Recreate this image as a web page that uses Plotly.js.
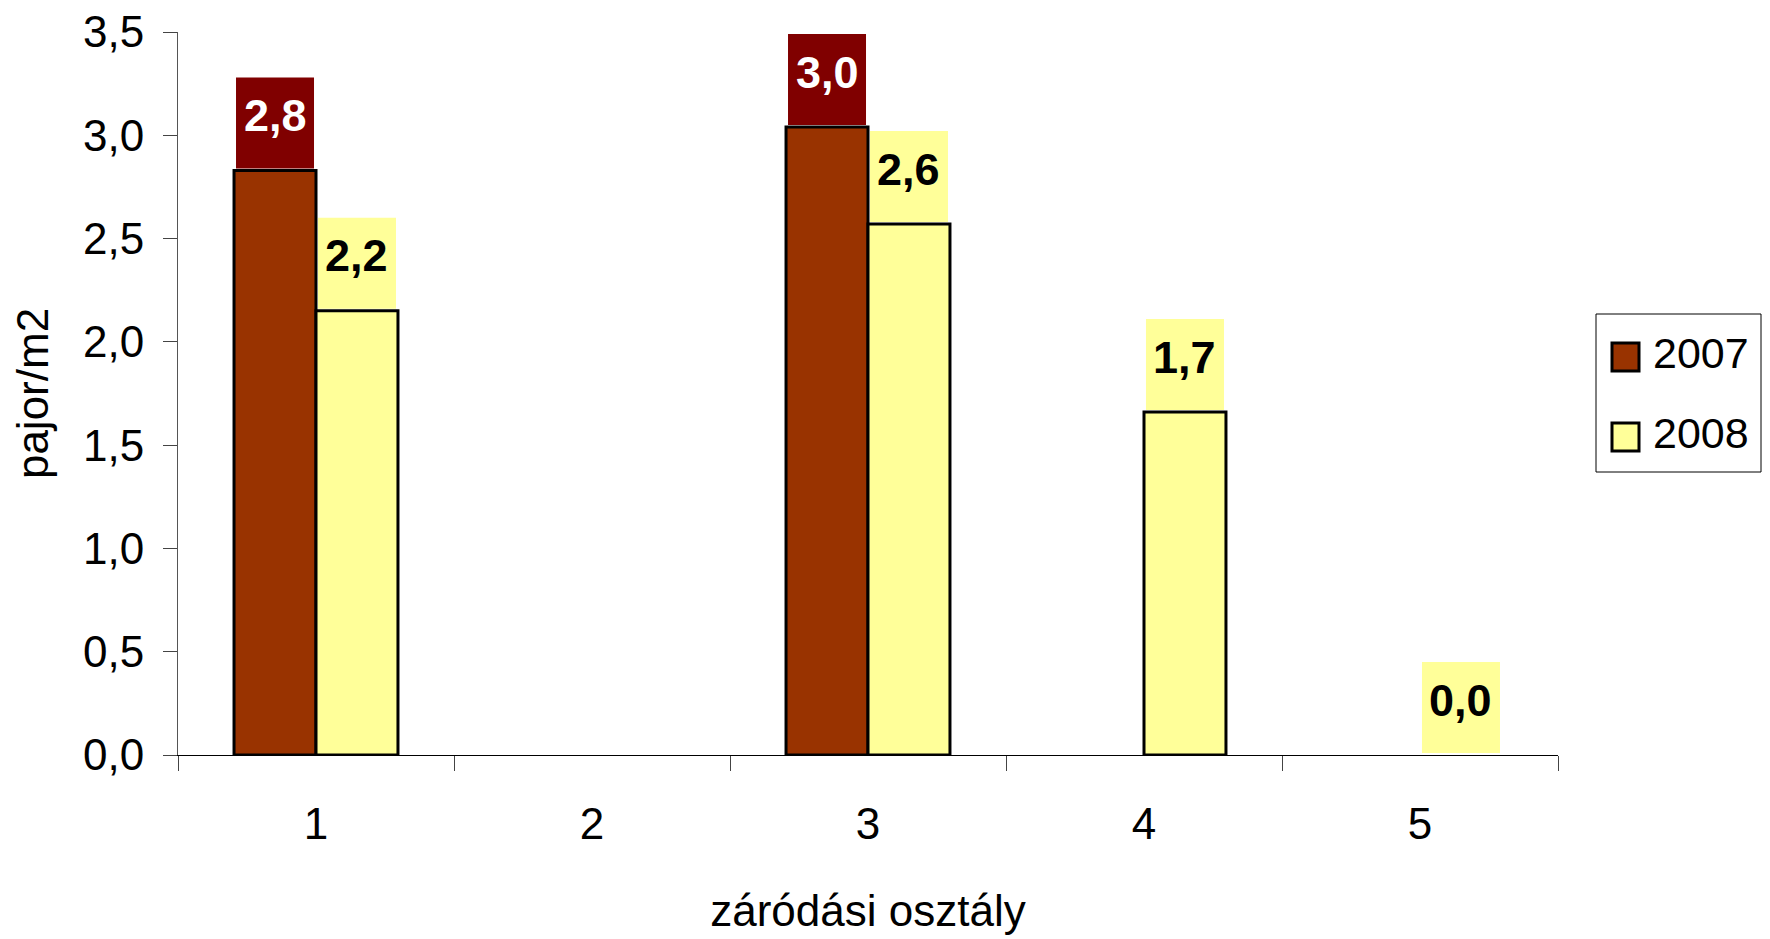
<!DOCTYPE html>
<html>
<head>
<meta charset="utf-8">
<script src="https://cdn.plot.ly/plotly-3.0.1.min.js"></script>
<style>
  html, body { margin: 0; padding: 0; background: #fff; }
  #chart { width: 1770px; height: 939px; }
</style>
</head>
<body>
<div id="chart"></div>
<script>
// Záródási osztályok (closure classes)
const categories = ['1', '2', '3', '4', '5'];
// Cockchafer grubs per m2 by year
const values2007 = [2.83, null, 3.04, null, null];
const values2008 = [2.15, null, 2.57, 1.66, 0.0];
const seriesNames = ['2007', '2008'];
const yTickVals = [0, 0.5, 1.0, 1.5, 2.0, 2.5, 3.0, 3.5];

const FONT = 'Liberation Sans, Arial, sans-serif';
const W = 1770, H = 939;
const margin = { l: 178, r: 212, t: 32, b: 184 };
const plotW = W - margin.l - margin.r;
const plotH = H - margin.t - margin.b;
const bargap = 0.406;

// one decimal, decimal comma (half rounds up)
const fmt = v => (Math.round(v * 10 + 1e-9) / 10).toFixed(1).replace('.', ',');

const series = [
  { name: seriesNames[0], y: values2007, fill: '#993300', labelBg: '#800000', labelColor: '#ffffff' },
  { name: seriesNames[1], y: values2008, fill: '#FFFF99', labelBg: '#FFFF99', labelColor: '#000000' }
];

const traces = series.map(s => ({
  type: 'bar',
  name: s.name,
  x: categories,
  y: s.y,
  marker: {
    color: s.fill,
    line: { color: '#000', width: s.y.map(v => (v === 0 ? 0 : 3)) }
  },
  showlegend: false,
  hoverinfo: 'skip'
}));

// Value labels: filled box sitting on each bar, bold value inside
const catWidth = plotW / categories.length;
const barWidth = catWidth * (1 - bargap) / series.length;
const BOX_W = 78, BOX_H = 91, BOX_GAP = 2, TEXT_FROM_TOP = 38;
const annotations = [];
const shapes = [];
series.forEach((s, si) => {
  const shift = (si - (series.length - 1) / 2) * barWidth;
  s.y.forEach((v, i) => {
    if (v === null) return;
    shapes.push({
      type: 'rect', layer: 'above',
      xref: 'x', yref: 'y',
      xsizemode: 'pixel', xanchor: i,
      x0: shift - BOX_W / 2, x1: shift + BOX_W / 2,
      ysizemode: 'pixel', yanchor: v,
      y0: BOX_GAP, y1: BOX_GAP + BOX_H,
      line: { width: 0 }, fillcolor: s.labelBg
    });
    annotations.push({
      x: i, y: v, xref: 'x', yref: 'y',
      xshift: shift, yshift: BOX_GAP + BOX_H - TEXT_FROM_TOP,
      yanchor: 'middle', xanchor: 'center',
      showarrow: false,
      text: '<b>' + fmt(v) + '</b>',
      font: { family: FONT, size: 45, color: s.labelColor }
    });
  });
});

// Legend: framed box with square swatches
const px2x = px => (px - margin.l) / plotW;
const px2y = py => (margin.t + plotH - py) / plotH;
shapes.push({
  type: 'rect', xref: 'paper', yref: 'paper',
  x0: px2x(1596), x1: px2x(1761), y0: px2y(472), y1: px2y(314),
  line: { color: '#000', width: 1 }, fillcolor: '#fff'
});
const legendRowY = [357, 437];
series.forEach((s, si) => {
  const cy = legendRowY[si];
  shapes.push({
    type: 'rect', xref: 'paper', yref: 'paper',
    x0: px2x(1612), x1: px2x(1639), y0: px2y(cy + 14), y1: px2y(cy - 14),
    line: { color: '#000', width: 3 }, fillcolor: s.fill
  });
  annotations.push({
    xref: 'paper', yref: 'paper', x: px2x(1651), y: px2y(cy - 4),
    xanchor: 'left', yanchor: 'middle', showarrow: false,
    text: s.name, font: { family: FONT, size: 43, color: '#000' }
  });
});

const layout = {
  width: W, height: H,
  margin: margin,
  paper_bgcolor: '#fff',
  plot_bgcolor: '#fff',
  font: { family: FONT, size: 44, color: '#000' },
  barmode: 'group',
  bargap: bargap,
  bargroupgap: 0,
  showlegend: false,
  xaxis: {
    type: 'category',
    range: [-0.5, categories.length - 0.5],
    tickson: 'boundaries',
    ticks: 'outside', ticklen: 15, tickcolor: '#444', tickwidth: 1,
    ticklabelstandoff: 30,
    showline: true, linecolor: '#000', linewidth: 1,
    showgrid: false, zeroline: false,
    tickfont: { family: FONT, size: 44 },
    title: { text: 'záródási osztály', font: { family: FONT, size: 44 }, standoff: 48 },
    fixedrange: true
  },
  yaxis: {
    range: [0, 3.5],
    tickvals: yTickVals,
    ticktext: yTickVals.map(fmt),
    ticks: 'outside', ticklen: 14, tickcolor: '#444', tickwidth: 1,
    ticklabelstandoff: 10,
    showline: true, linecolor: '#555', linewidth: 1,
    showgrid: false, zeroline: false,
    tickfont: { family: FONT, size: 44 },
    title: { text: 'pajor/m2', font: { family: FONT, size: 44 }, standoff: 20 },
    fixedrange: true
  },
  shapes: shapes,
  annotations: annotations
};

Plotly.newPlot('chart', traces, layout, { displayModeBar: false, staticPlot: true });
</script>
</body>
</html>
